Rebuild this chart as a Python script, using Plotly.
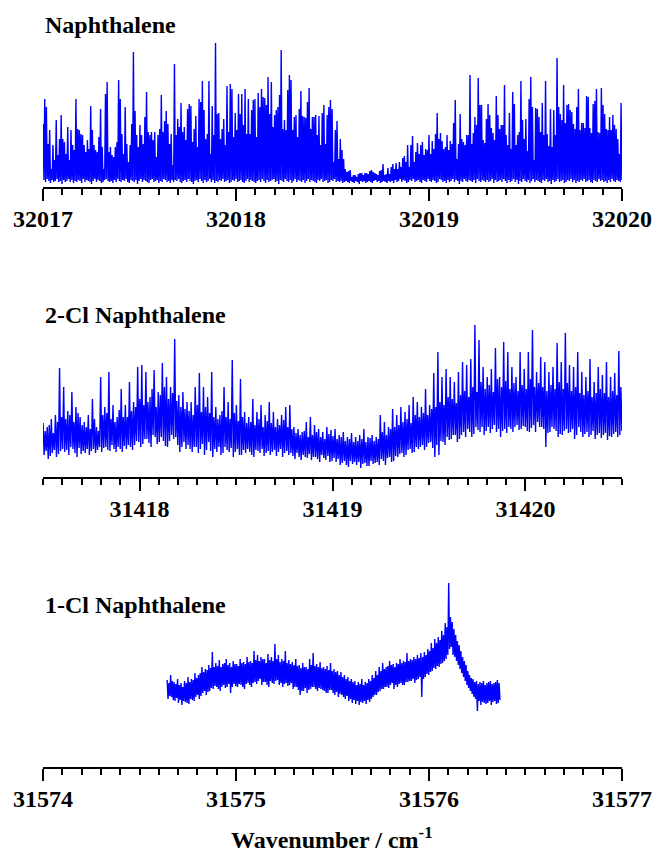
import plotly.graph_objects as go

# ---------------- data (intensities, arbitrary units) -------------
# Naphthalene: 32017 - 32020 cm-1, alternating spike tops / floor values
nap_start, nap_end = 32017.0, 32020.0
nap_peaks = [
    58, 83, 75, 38, 52, 13, 37, 22, 62, 27, 43, 67, 43, 40, 28, 55, 22, 52, 37, 32,
    83, 53, 52, 48, 47, 37, 30, 42, 33, 76, 52, 37, 32, 30, 45, 73, 35, 13, 88, 100,
    30, 35, 27, 25, 35, 40, 102, 83, 48, 28, 75, 38, 20, 37, 58, 130, 71, 47, 35, 57,
    47, 38, 65, 90, 50, 47, 50, 42, 50, 25, 47, 53, 87, 50, 61, 71, 58, 38, 48, 17,
    118, 47, 63, 55, 79, 50, 55,
    42, 73, 78, 76, 40, 53, 66, 35, 83, 80, 101, 72, 43, 48, 101, 28, 76, 47, 139, 68,
    69, 43, 53, 63, 37, 96, 50, 98, 93, 45, 69, 52, 88, 68, 88, 57, 93, 48, 83, 48,
    72, 82, 83, 45, 89, 75, 93, 85, 84, 77, 105, 68, 100, 55, 67, 72, 75, 87, 132, 53,
    62, 52, 92, 107, 102, 52, 65, 67, 45, 73, 91, 66, 65, 64, 80, 94, 53, 65, 65, 67,
    47, 66, 37, 69, 77, 38, 67, 75, 82,
    73, 20, 52, 61, 23, 43, 32, 23, 13, 10, 11, 12, 5, 7, 7, 5, 8, 9, 9, 7,
    9, 9, 8, 11, 12, 10, 9, 8, 7, 11, 12, 18, 7, 8, 14, 8, 15, 18, 13, 19,
    13, 20, 15, 24, 26, 20, 37, 15, 37, 46, 20, 30, 39, 28, 37, 40, 27, 33, 32, 47,
    28, 41, 33, 48, 69, 43, 49, 41, 33, 35, 47, 32, 41, 38, 59, 82, 23, 38, 68, 43,
    40, 37, 47, 47, 107, 38, 49, 65, 57, 104, 77,
    77, 42, 39, 63, 78, 67, 54, 49, 42, 86, 67, 53, 57, 57, 97, 47, 37, 69, 33, 90,
    78, 37, 47, 50, 101, 62, 43, 63, 31, 83, 105, 75, 22, 74, 73, 65, 50, 79, 47, 101,
    48, 36, 73, 35, 72, 47, 124, 75, 68, 62, 97, 59, 77, 78, 72, 70, 58, 53, 75, 93,
    52, 59, 59, 54, 86, 85, 54, 49, 78, 81, 93, 50, 49, 94, 77, 68, 53, 52, 65, 52,
    67, 57, 53, 43, 28, 79,
]
nap_floor = [
    2, 0, 3, 1, -1, 2, 0, 1, 3, 0, 1, -2, 2, 0, 1, 3, 0, 2, -1, 1,
    0, 2, 1, -1, 3, 0, 2, 1, 0, -2, 1, 3, 0, 2, 1, -1, 0, 2, 3, 1,
    0, 1, -1, 2, 0, 3, 1, 0, 2, 1, 3, 0, -1, 2, 1, 0, 2, -2, 1, 3,
    0, 2, 1, 0, -1, 2, 3, 0, 1, 2, -1, 1, 0, 3, 2, 0, 1, -1, 2, 0,
    2, 1, 3, 0, -1, 1, 2, 0, 3, 1, 0, -2, 1, 2, 0, 3, 1, -1, 2, 0,
    1, 3, 0, 2, -1, 1, 0, 2, 1, 3, 0, 1, 2, -1, 0, 2, 1, 3, 0, 1,
    2, 0, -1, 1, 3, 0, 2, 1, 0, -1, 1, 2, 0, 3, 1, -1, 2, 0, 1, 2,
    3, 0, 1, -2, 2, 1, 0, 3, 1, 0, 2, -1, 1, 3, 0, 2, 1, 0, 2, -1,
    1, 3, 0, 2, 1, 0, -1, 2, 1, 3, 0, 1, 2, -1, 0, 2, 1, 3, 0, 1,
    0, 1, -1, 0, 1, 0, -1, 1, 0, -1, 1, 0, -2, 1, 0, 1, -1, 0, 1, 0,
    -1, 1, 2, 0, 1, -1, 0, 1, 0, -1, 1, 0, 1, -1, 2, 0, 1, 3, 0, 2,
    1, -1, 0, 2, 1, 3, 0, 1, 2, 0, -1, 2, 1, 0, 3, 1, 0, 2, 1, -1,
    0, 3, 2, 0, 1, -1, 2, 0, 1, 3, 0, 2, 1, -2, 1, 0, 3, 1, 0, 2,
    1, 0, 2, -1, 3, 1, 0, 2, 1, 0, 2, 0, 1, 3, -1, 2, 0, 1, 2, 0,
    3, 1, -1, 2, 0, 1, 3, 0, 2, -2, 1, 0, 3, 1, 0, 2, -1, 1, 3, 0,
    2, 1, 0, -1, 2, 1, 3, 0, 1, -2, 2, 0, 1, 3, 0, 1, 2, -1, 0, 2,
    1, 3, 0, 2, -1, 1, 0, 2, 1, 3, 0, 1, 2, 0, -1, 2, 1, 0, 3, 1,
    2, 0, 1, -1, 2, 0, 3, 1, 0, 2, 1, 0, 2,
]

# 2-Cl Naphthalene: 31417.5 - 31420.5 cm-1, alternating upper / lower noise values
cl2_start, cl2_end = 31417.5, 31420.5
cl2_high = [
    54, 46, 50, 52, 58, 44, 62, 55, 109, 60,
    90, 58, 66, 62, 85, 55, 70, 64, 60, 52,
    55, 50, 62, 48, 78, 58, 50, 46, 100, 62,
    70, 64, 105, 58, 72, 55, 60, 67, 88, 60,
    72, 60, 95, 66, 75, 70, 110, 78, 112, 72,
    105, 75, 80, 88, 107, 70, 85, 82, 114, 90,
    100, 78, 90, 84, 138, 76, 82, 70, 85, 68,
    75, 66, 75, 62, 90, 72, 104, 65, 90, 70,
    80, 64, 105, 60, 70, 58, 62, 66, 90, 60,
    75, 58, 117, 64, 72, 56, 98, 60, 65, 54,
    60, 55, 78, 52, 65, 58, 72, 50, 62, 56,
    75, 54, 65, 50, 58, 52, 62, 57, 70, 50,
    72, 48, 50, 44, 48, 42, 45, 46, 55, 40,
    60, 42, 52, 45, 48, 40, 45, 38, 50, 43, 47, 41,
    48, 38, 42, 40, 45, 36, 40, 38, 44, 35,
    40, 36, 42, 38, 48, 35, 40, 39, 42, 36,
    40, 38, 62, 45, 55, 42, 50, 48, 68, 50,
    62, 52, 70, 55, 65, 58, 72, 54, 80, 62,
    75, 60, 70, 64, 88, 62, 72, 68, 104, 70,
    125, 75, 100, 72, 108, 80, 100, 78, 95, 74,
    105, 82, 115, 86, 112, 80, 118, 90, 152, 85,
    137, 95, 110, 88, 100, 92, 108, 85, 129, 98,
    100, 90, 135, 96, 125, 88, 110, 94, 100, 86,
    125, 92, 108, 88, 125, 98, 147, 90, 105, 94,
    120, 90, 115, 86, 105, 92, 110, 88, 134, 95,
    115, 88, 144, 94, 112, 86, 110, 90, 125, 84,
    105, 82, 100, 86, 118, 80, 95, 84, 110, 88,
    102, 84, 115, 80, 100, 86, 104, 82, 126, 90,
]
cl2_low = [
    22, 26, 18, 21, 24, 27, 20, 23, 26, 28,
    25, 27, 22, 30, 28, 24, 20, 29, 23, 26,
    24, 28, 22, 26, 28, 24, 27, 30, 25, 29,
    30, 27, 26, 32, 28, 25, 30, 28, 25, 31,
    28, 32, 30, 27, 32, 36, 35, 30, 33, 38,
    38, 34, 30, 42, 40, 33, 35, 40, 36, 31,
    30, 36, 42, 38, 40, 32, 25, 30, 35, 28,
    32, 28, 25, 30, 30, 24, 28, 33, 22, 27,
    35, 26, 20, 28, 25, 30, 22, 24, 30, 27,
    25, 29, 20, 25, 28, 22, 22, 27, 24, 28,
    25, 22, 20, 27, 26, 24, 28, 21, 24, 26,
    22, 25, 27, 21, 25, 28, 20, 24, 26, 22,
    24, 21, 18, 24, 20, 17, 22, 20, 19, 23,
    17, 20, 20, 18, 15, 22, 19, 17, 21, 15, 16, 19,
    15, 18, 12, 14, 16, 12, 10, 16, 13, 15,
    12, 15, 9, 13, 14, 11, 11, 16, 13, 14,
    15, 12, 18, 16, 12, 19, 20, 15, 16, 21,
    20, 23, 24, 20, 22, 27, 28, 24, 25, 30,
    28, 30, 32, 27, 30, 34, 35, 29, 20, 32,
    22, 36, 35, 32, 40, 37, 38, 42, 42, 35,
    38, 42, 45, 40, 48, 45, 40, 43, 50, 47,
    45, 50, 42, 46, 50, 44, 48, 52, 45, 48,
    40, 46, 48, 44, 50, 48, 45, 50, 52, 47,
    48, 51, 50, 46, 45, 49, 52, 45, 55, 50,
    50, 48, 30, 44, 45, 50, 48, 46, 40, 43,
    42, 46, 48, 44, 45, 48, 38, 42, 50, 45,
    40, 43, 45, 40, 42, 46, 38, 42, 44, 39,
    42, 44, 37, 41, 40, 43, 45, 40, 42, 46,
]

# 1-Cl Naphthalene: 31574.64 - 31576.37 cm-1, alternating upper / lower noise values
cl1_start, cl1_end = 31574.643, 31576.368
cl1_high = [
    87, 84, 92, 86, 85, 83, 88, 82, 84, 80, 86, 84, 90, 85, 88, 87, 94, 89, 92, 94,
    100, 95, 98, 97, 102, 99, 115, 100, 104, 101, 107, 100, 103, 104, 108, 102, 104, 100, 106, 103,
    103, 101, 108, 104, 105, 103, 110, 105, 106, 104, 116, 107, 112, 106, 110, 108, 108, 104, 113, 107,
    110, 106, 123, 108, 112, 105, 108, 106, 116, 104, 107, 103, 105, 102, 108, 101, 102, 99, 104, 100,
    100, 98, 108, 102, 114, 101, 103, 100, 105, 99, 100, 98, 101, 97, 104, 96, 98, 95, 96, 92,
    95, 90, 92, 88, 90, 86, 88, 85, 86, 82, 85, 83, 88, 82, 85, 84, 88, 86, 92, 89,
    96, 92, 100, 96, 104, 98, 100, 101, 106, 102, 103, 100, 104, 103, 108, 104, 106, 105, 114, 106,
    108, 107, 110, 108, 112, 109, 114, 110, 115, 112, 118, 116, 124, 119, 128, 124, 130, 127, 136, 132,
    144, 140, 184, 150, 145, 138, 132, 126, 122, 116, 110, 106, 102, 96, 92, 89, 88, 85, 86, 83,
    85, 84, 86, 82, 84, 85, 86, 83, 84, 85, 87, 84,
]
cl1_low = [
    68, 71, 70, 67, 66, 69, 64, 67, 62, 66, 65, 64, 63, 68, 67, 66, 70, 72, 68, 71,
    74, 76, 72, 75, 76, 79, 78, 81, 80, 78, 76, 80, 82, 79, 80, 83, 74, 80, 83, 81,
    80, 83, 82, 80, 78, 83, 84, 82, 80, 84, 85, 83, 86, 88, 82, 85, 85, 82, 80, 86,
    84, 83, 86, 87, 82, 84, 80, 83, 84, 81, 82, 84, 78, 80, 80, 77, 72, 76, 76, 79,
    74, 77, 78, 80, 80, 78, 76, 79, 78, 77, 76, 74, 74, 77, 77, 74, 72, 75, 70, 73,
    72, 70, 68, 71, 66, 68, 64, 67, 63, 66, 62, 65, 64, 66, 63, 67, 65, 68, 70, 72,
    72, 75, 76, 78, 78, 80, 80, 79, 82, 84, 78, 82, 80, 83, 84, 82, 82, 85, 85, 86,
    86, 88, 84, 87, 88, 90, 70, 88, 90, 93, 92, 95, 96, 99, 98, 101, 100, 103, 104, 106,
    108, 112, 118, 120, 112, 110, 106, 102, 98, 94, 90, 86, 82, 79, 76, 73, 70, 68, 56, 66,
    62, 65, 64, 63, 64, 66, 62, 65, 66, 63, 64, 67,
]

panel_titles = ["Naphthalene", "2-Cl Naphthalene", "1-Cl Naphthalene"]
x_title = "Wavenumber / cm<sup>-1</sup>"


def interleave(a, b):
    out = []
    for u, v in zip(a, b):
        out.extend([u, v])
    return out


def grid(start, end, n):
    if n == 1:
        return [start]
    step = (end - start) / (n - 1)
    return [start + i * step for i in range(n)]


nap_y = interleave(nap_peaks, nap_floor)
cl2_y = interleave(cl2_high, cl2_low)
cl1_y = interleave(cl1_high, cl1_low)

W, H = 653, 854
FONT = "Liberation Serif, Times New Roman, serif"
BLUE = "#0000FF"


def py(px):
    return 1 - px / H


fig = go.Figure()
fig.add_trace(go.Scatter(x=grid(nap_start, nap_end, len(nap_y)), y=nap_y, mode="lines",
                         line=dict(color=BLUE, width=1.4), xaxis="x", yaxis="y",
                         showlegend=False, hoverinfo="skip"))
fig.add_trace(go.Scatter(x=grid(cl2_start, cl2_end, len(cl2_y)), y=cl2_y, mode="lines",
                         line=dict(color=BLUE, width=1.4), xaxis="x2", yaxis="y2",
                         showlegend=False, hoverinfo="skip"))
fig.add_trace(go.Scatter(x=grid(cl1_start, cl1_end, len(cl1_y)), y=cl1_y, mode="lines",
                         line=dict(color=BLUE, width=1.4), xaxis="x3", yaxis="y3",
                         showlegend=False, hoverinfo="skip"))

xdom = [43 / W, 622 / W]


def xaxis(rng, tick0, anchor):
    return dict(
        domain=xdom, range=rng, anchor=anchor, automargin=False,
        showline=True, linecolor="black", linewidth=2,
        showgrid=False, zeroline=False,
        ticks="outside", ticklen=12, tickwidth=2, tickcolor="black",
        tick0=tick0, dtick=1, tickformat="d", exponentformat="none",
        ticklabelstandoff=-3,
        tickfont=dict(family=FONT, size=24, color="black", weight="bold"),
        minor=dict(ticks="outside", ticklen=6, tickwidth=2, tickcolor="black",
                   dtick=0.1, tick0=tick0, showgrid=False),
        fixedrange=True,
    )


def yaxis(dom, rng):
    return dict(domain=dom, range=rng, visible=False, showgrid=False,
                zeroline=False, fixedrange=True, automargin=False)


fig.update_layout(
    width=W, height=H,
    margin=dict(l=0, r=0, t=0, b=0, pad=0),
    paper_bgcolor="white", plot_bgcolor="white",
    showlegend=False,
    xaxis=xaxis([32017 - 0.0005, 32020 + 0.0005], 32017, "y"),
    xaxis2=xaxis([31417.5 - 0.0005, 31420.5 + 0.0005], 31418, "y2"),
    xaxis3=xaxis([31574 - 0.0005, 31577 + 0.0005], 31574, "y3"),
    yaxis=yaxis([py(187), py(30)], [-5, 152]),
    yaxis2=yaxis([py(477), py(320)], [0, 157]),
    yaxis3=yaxis([py(767), py(575)], [0, 192]),
)

title_y = [25, 315, 605]
for txt, ty in zip(panel_titles, title_y):
    fig.add_annotation(text="<b>" + txt + "</b>", xref="paper", yref="paper",
                       x=43 / W, y=py(ty), xanchor="left", yanchor="middle",
                       showarrow=False, font=dict(family=FONT, size=24, color="black"))

fig.add_annotation(text="<b>" + x_title + "</b>", xref="paper", yref="paper",
                   x=332 / W, y=py(838), xanchor="center", yanchor="middle",
                   showarrow=False, font=dict(family=FONT, size=24, color="black"))

fig.write_html("out.html", config={"displayModeBar": False},
               post_script="document.body.style.margin='0px';document.body.style.overflow='hidden';")
